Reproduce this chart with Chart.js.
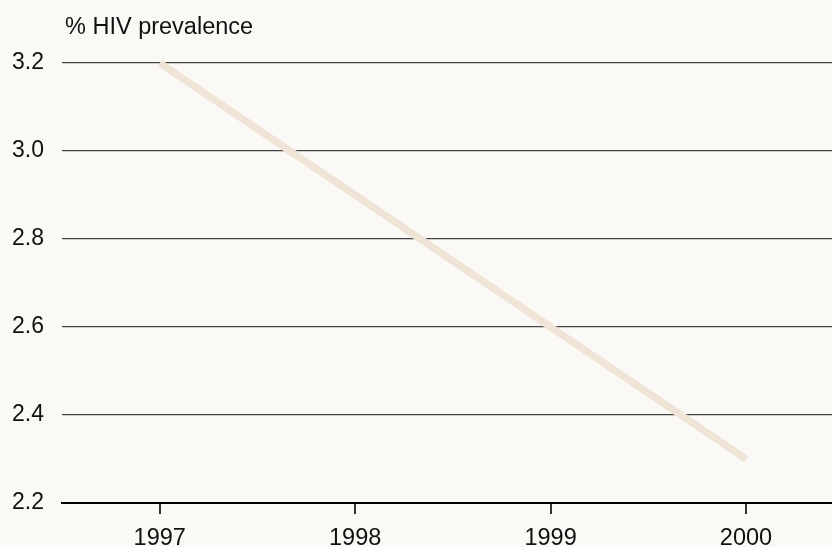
<!DOCTYPE html>
<html>
<head>
<meta charset="utf-8">
<script src="https://cdn.jsdelivr.net/npm/chart.js@4/dist/chart.umd.min.js"></script>
<style>
  html, body { margin: 0; padding: 0; background: #faf9f6; }
  #wrap { width: 832px; height: 547px; }
</style>
</head>
<body>
<div id="wrap"><canvas id="chart"></canvas></div>
<script>
const years = [1997, 1998, 1999, 2000];
const prevalence = [3.2, 2.9, 2.6, 2.3];
const yTicks = [2.2, 2.4, 2.6, 2.8, 3.0, 3.2];
const yTitle = '% HIV prevalence';

const FONT = 'Liberation Sans, Arial, sans-serif';

const titlePlugin = {
  id: 'yTitle',
  afterDraw(chart) {
    const ctx = chart.ctx;
    ctx.save();
    ctx.font = `23.5px ${FONT}`;
    ctx.fillStyle = '#111';
    ctx.textAlign = 'left';
    ctx.textBaseline = 'middle';
    ctx.fillText(yTitle, 65, 28);
    ctx.restore();
  },
};

new Chart(document.getElementById('chart'), {
  type: 'line',
  data: {
    datasets: [{
      data: years.map((y, i) => ({ x: y, y: prevalence[i] })),
      borderColor: '#f0e4d6',
      borderWidth: 7.5,
      borderCapStyle: 'butt',
      pointRadius: 0,
      tension: 0,
      clip: false,
    }],
  },
  options: {
    responsive: true,
    maintainAspectRatio: false,
    animation: false,
    layout: { padding: { top: 63, right: 0, left: 0, bottom: 0 } },
    plugins: { legend: { display: false }, tooltip: { enabled: false } },
    scales: {
      x: {
        type: 'linear',
        min: 1996.5,
        max: 2000.44,
        afterBuildTicks: axis => { axis.ticks = years.map(v => ({ value: v })); },
        afterFit: axis => { axis.height = 44; },
        border: { display: true, color: '#000', width: 2 },
        grid: { drawOnChartArea: false, drawTicks: true, tickLength: 11, color: '#333', lineWidth: 2 },
        ticks: {
          color: '#111',
          font: { family: FONT, size: 23.5 },
          padding: 10,
          maxRotation: 0,
          callback: v => String(v),
        },
      },
      y: {
        min: 2.2,
        max: 3.2,
        afterBuildTicks: axis => { axis.ticks = yTicks.map(v => ({ value: v })); },
        afterFit: axis => { axis.width = 62; },
        border: { display: false },
        grid: { drawTicks: false, color: '#444', lineWidth: 1.2 },
        ticks: {
          color: '#111',
          font: { family: FONT, size: 23 },
          padding: 18,
          callback: v => v.toFixed(1),
        },
      },
    },
  },
  plugins: [titlePlugin],
});
</script>
</body>
</html>
